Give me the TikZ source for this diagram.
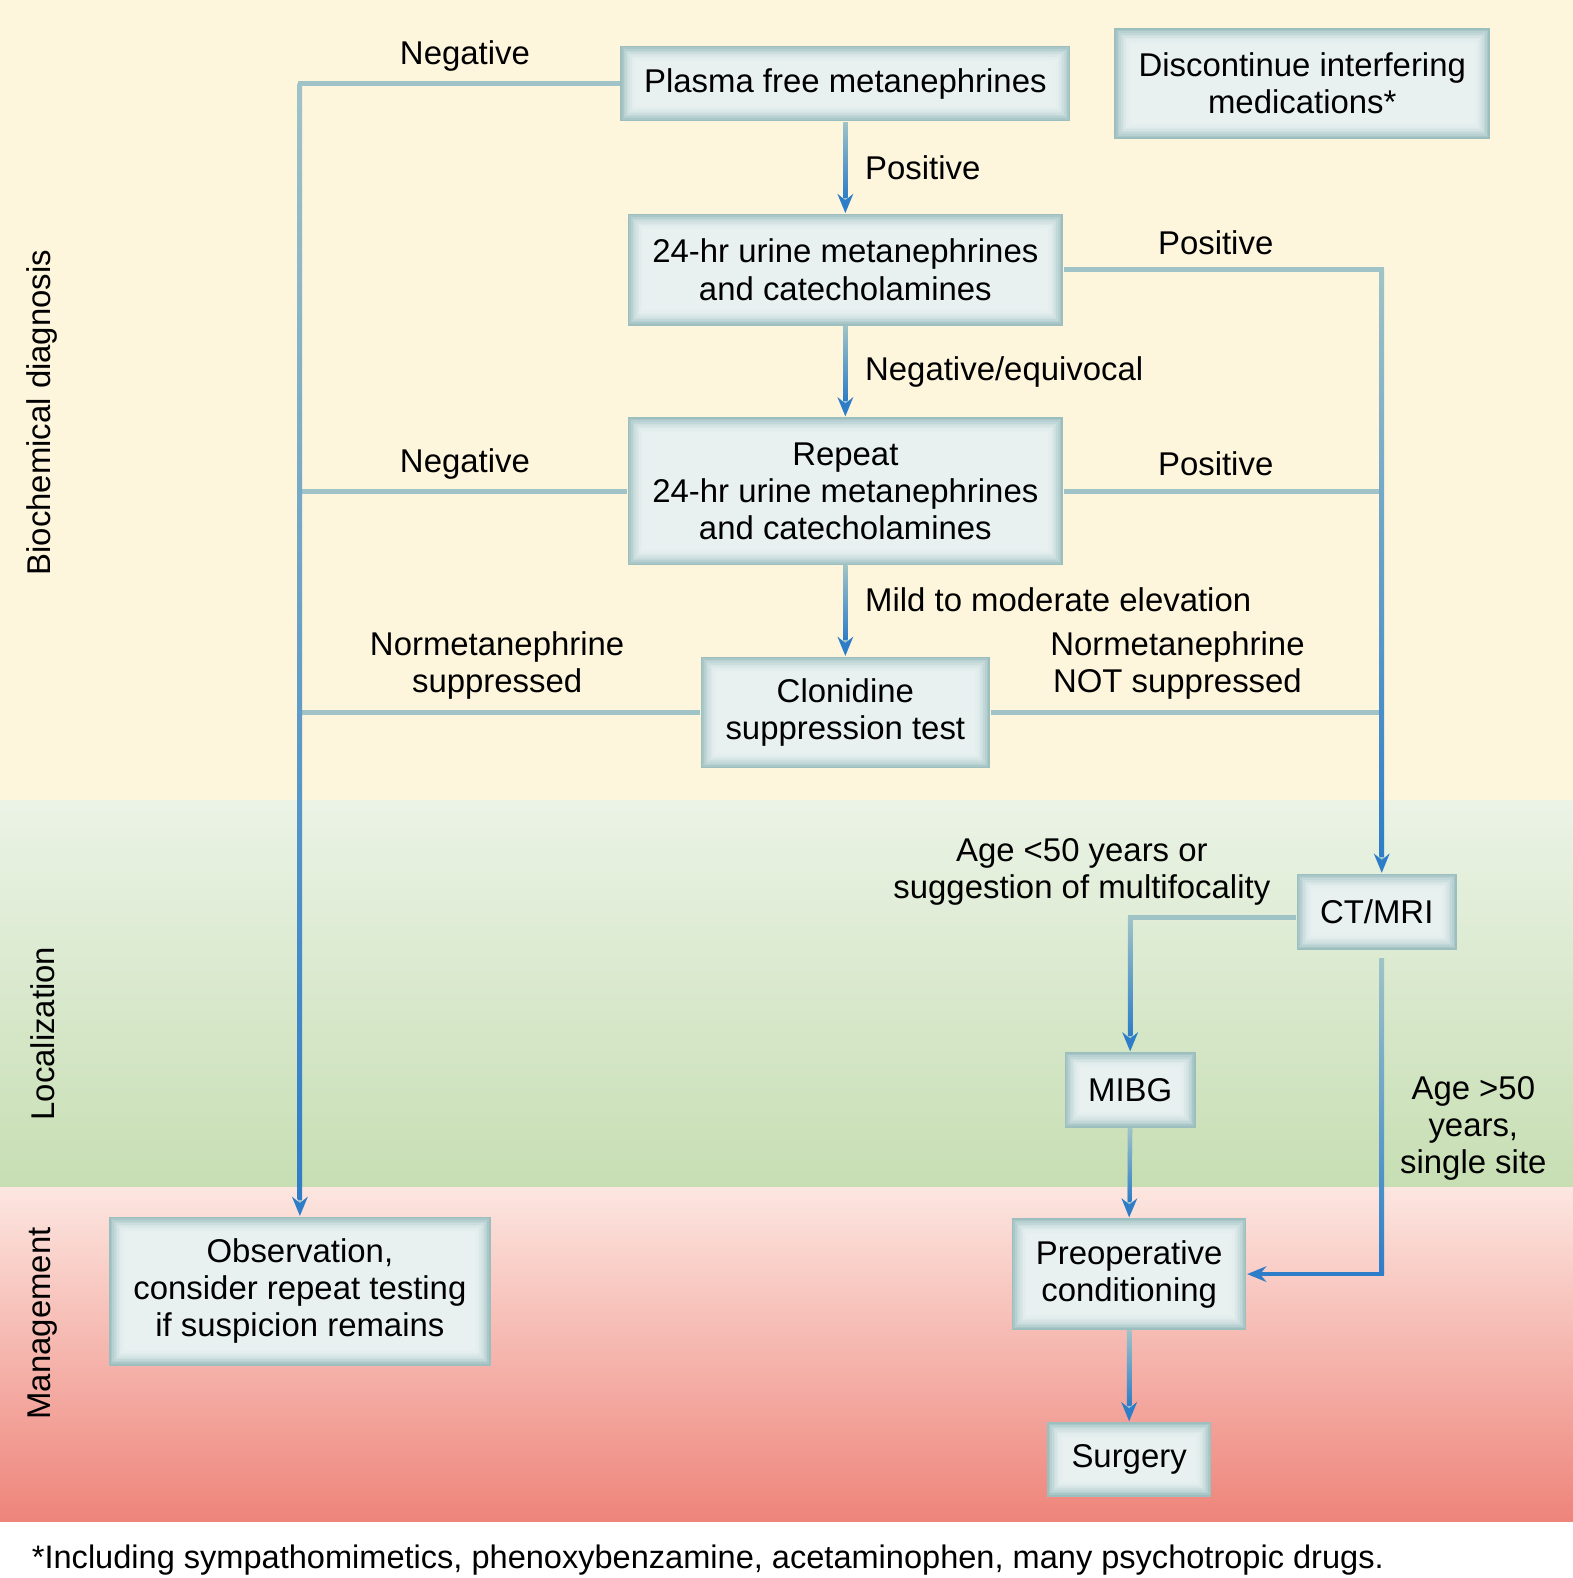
\documentclass[tikz,border=0pt]{standalone}
\usepackage{fontspec}
\setmainfont{Liberation Sans}
\usetikzlibrary{arrows.meta,calc}
\definecolor{cream}{HTML}{FEF5DD}
\definecolor{greenA}{HTML}{EBF3E6}
\definecolor{greenB}{HTML}{C7DEB3}
\definecolor{pinkA}{HTML}{FCE6E0}
\definecolor{pinkB}{HTML}{EE847A}
\definecolor{boxedge}{HTML}{9CBEBF}
\definecolor{boxin}{HTML}{E8F0F0}
\definecolor{lineA}{HTML}{9FC3C7}
\definecolor{lineB}{HTML}{2E7DC8}
\newcommand{\vgrad}[2]{\shade[top color=lineA, bottom color=lineB] ($#1+(-2.3,0)$) rectangle ($#2+(2.3,0)$);}
\begin{document}
\begin{tikzpicture}[x=0.01cm,y=-0.01cm,
  font=\fontsize{9.3}{10.5}\selectfont,
  box/.style={fill=boxedge, align=center, inner sep=0pt, path picture={
    \foreach \i in {1,...,10}{
      \pgfmathtruncatemacro\c{100*(1-(1-\i/10)^2)}
      \fill[boxin!\c!boxedge] ([shift={(\i*0.016cm,\i*0.016cm)}]path picture bounding box.south west) rectangle ([shift={(-\i*0.016cm,-\i*0.016cm)}]path picture bounding box.north east);
    }}},
  conn/.style={draw=lineA, line width=1.35pt},
  arr/.style={conn, -{Stealth[length=5.4pt,width=4.4pt,color=lineB]}},
  lab/.style={align=center, inner sep=0pt},
  side/.style={rotate=90, inner sep=0pt}]
\useasboundingbox (0,0) rectangle (1563,1568);
% background bands
\fill[cream] (0,0) rectangle (1563,795);
\shade[top color=greenA, bottom color=greenB] (0,795) rectangle (1563,1180);
\shade[top color=pinkA, bottom color=pinkB] (0,1180) rectangle (1563,1512);
\fill[white] (0,1512) rectangle (1563,1568);
% side labels
\node[side] (sbio) at (42,410) {Biochemical diagnosis};
\node[side] (sloc) at (42,1027) {Localization};
\node[side] (sman) at (42,1315) {Management};
% boxes
\node[box, minimum width=4.47cm, minimum height=0.75cm] (plasma) at (840,83) {Plasma free metanephrines};
\node[box, minimum width=3.73cm, minimum height=1.10cm] (disc) at (1294,83) {Discontinue interfering\\medications*};
\node[box, minimum width=4.32cm, minimum height=1.11cm] (u24) at (840,268) {24-hr urine metanephrines\\and catecholamines};
\node[box, minimum width=4.32cm, minimum height=1.47cm] (rep) at (840,488) {Repeat\\24-hr urine metanephrines\\and catecholamines};
\node[box, minimum width=2.87cm, minimum height=1.11cm] (clon) at (840,708) {Clonidine\\suppression test};
\node[box, minimum width=1.59cm, minimum height=0.76cm] (ct) at (1368,906) {CT/MRI};
\node[box, minimum width=1.30cm, minimum height=0.75cm] (mibg) at (1123,1083) {MIBG};
\node[box, minimum width=2.33cm, minimum height=1.11cm] (preop) at (1122,1266) {Preoperative\\conditioning};
\node[box, minimum width=1.63cm, minimum height=0.74cm] (surg) at (1122,1450) {Surgery};
\node[box, minimum width=3.79cm, minimum height=1.48cm] (obs) at (298,1283) {Observation,\\consider repeat testing\\if suspicion remains};
% connectors
\coordinate (ctn) at ([xshift=0.05cm]ct.north);
\draw[arr] (plasma.west) -| (obs.north);
\draw[conn] (rep.west) -- (rep.west -| obs.north);
\draw[conn] (clon.west) -- (clon.west -| obs.north);
\draw[arr] (plasma.south) -- (u24.north);
\draw[arr] (u24.south) -- (rep.north);
\draw[arr] (rep.south) -- (clon.north);
\draw[arr] (u24.east) -| (ctn);
\draw[conn] (rep.east) -- (rep.east -| ctn);
\draw[conn] (clon.east) -- (clon.east -| ctn);
\coordinate (ctw) at ([yshift=-0.06cm]ct.west);
\draw[arr] (ctw) -| (mibg.north);
\coordinate (cts) at ([xshift=0.05cm,yshift=-0.08cm]ct.south);
\draw[arr, draw=lineB] (cts) |- (preop.east);
\draw[arr] (mibg.south) -- (preop.north);
\draw[arr] (preop.south) -- (surg.north);
% gradient overlays on vertical runs
\vgrad{(plasma.west -| obs.north)}{($(obs.north)+(0,-16)$)}
\vgrad{(plasma.south)}{($(u24.north)+(0,-16)$)}
\vgrad{(u24.south)}{($(rep.north)+(0,-16)$)}
\vgrad{(rep.south)}{($(clon.north)+(0,-16)$)}
\vgrad{(u24.east -| ctn)}{($(ctn)+(0,-16)$)}
\vgrad{(ctw -| mibg.north)}{($(mibg.north)+(0,-16)$)}
\vgrad{(cts)}{(cts |- preop.east)}
\vgrad{(mibg.south)}{($(preop.north)+(0,-16)$)}
\vgrad{(preop.south)}{($(surg.north)+(0,-16)$)}
% labels
\node[lab] (l1) at (462,56) {Negative};
\node[lab, anchor=west] (l2) at (859,167) {Positive};
\node[lab] (l3) at (1208,241) {Positive};
\node[lab, anchor=west] (l4) at (859,370) {Negative/equivocal};
\node[lab] (l5) at (462,461) {Negative};
\node[lab] (l6) at (1208,461) {Positive};
\node[lab, anchor=west] (l7) at (859,596) {Mild to moderate elevation};
\node[lab] (l8) at (494,661) {Normetanephrine\\suppressed};
\node[lab] (l9) at (1170,661) {Normetanephrine\\NOT suppressed};
\node[lab] (l10) at (1075,866) {Age <50 years or\\suggestion of multifocality};
\node[lab] (l11) at (1464,1121) {Age >50\\years,\\single site};
% footnote
\node[lab, anchor=west, font=\fontsize{9.2}{10.5}\selectfont] (foot) at (31,1550) {*Including sympathomimetics, phenoxybenzamine, acetaminophen, many psychotropic drugs.};
\end{tikzpicture}
\end{document}
